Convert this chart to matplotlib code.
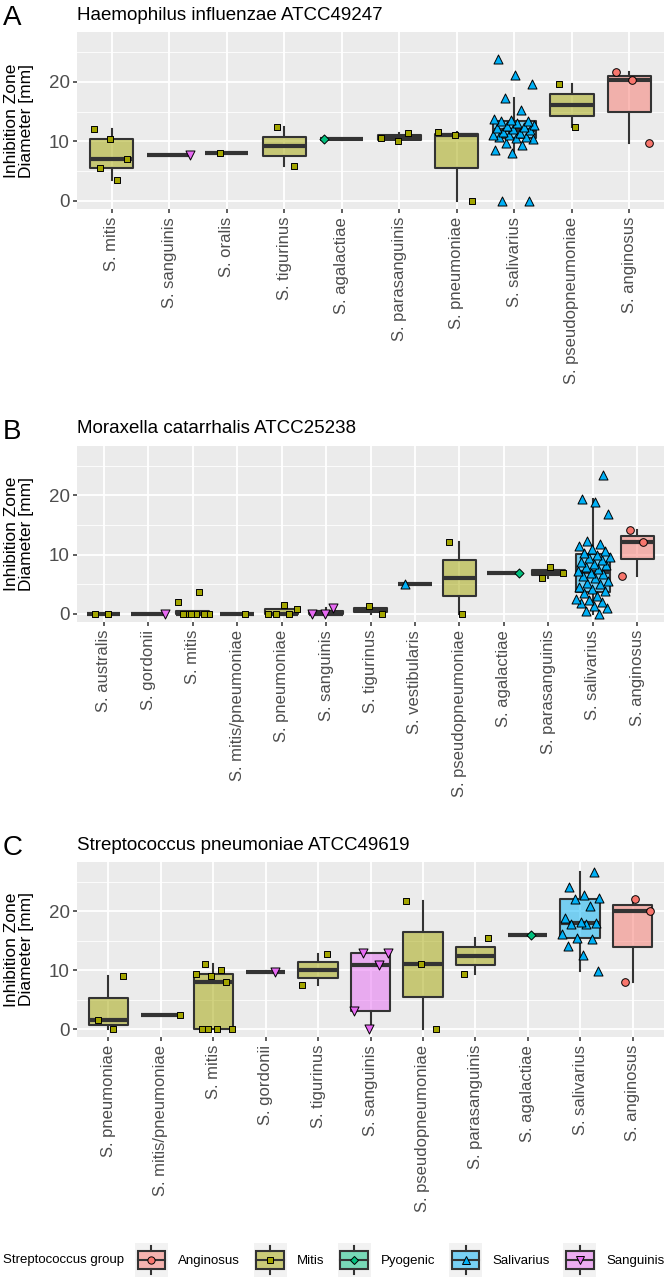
import matplotlib
matplotlib.use("Agg")
import matplotlib.pyplot as plt
import numpy as np
from matplotlib.patches import Rectangle
from matplotlib.lines import Line2D
from matplotlib.legend_handler import HandlerBase
from matplotlib.colors import to_rgba

plt.rcParams['font.family'] = ['Liberation Sans', 'DejaVu Sans']

# ---------------- data ----------------
group_names = ["Anginosus", "Mitis", "Pyogenic", "Salivarius", "Sanguinis"]
group_colors = ["#F8766D", "#A3A500", "#00BF7D", "#00B0F6", "#E76BF3"]
group_markers = ["o", "s", "D", "^", "v"]

# Panel A: Haemophilus influenzae ATCC49247
a_title = "Haemophilus influenzae ATCC49247"
a_species = ["S. mitis", "S. sanguinis", "S. oralis", "S. tigurinus", "S. agalactiae",
             "S. parasanguinis", "S. pneumoniae", "S. salivarius", "S. pseudopneumoniae",
             "S. anginosus"]
a_groups = ["Mitis", "Sanguinis", "Mitis", "Mitis", "Pyogenic",
            "Mitis", "Mitis", "Salivarius", "Mitis", "Anginosus"]
a_mitis = [3.5, 5.6, 7.1, 10.4, 12.1]
a_sanguinis = [7.7]
a_oralis = [8.0]
a_tigurinus = [5.9, 12.4]
a_agalactiae = [10.4]
a_parasanguinis = [10.0, 10.6, 11.4]
a_pneumoniae = [0.0, 11.0, 11.6]
a_salivarius = [0.0, 0.0, 8.0, 8.6, 9.4, 9.7, 10.4, 10.6, 10.7, 10.8, 11.0, 11.1, 11.4,
                11.6, 11.9, 12.0, 12.2, 12.4, 12.6, 12.8, 13.1, 13.4, 13.4, 13.6, 13.8,
                15.3, 17.3, 19.6, 21.2, 23.9]
a_pseudopneumoniae = [12.4, 19.7]
a_anginosus = [9.7, 20.3, 21.7]

# Panel B: Moraxella catarrhalis ATCC25238
b_title = "Moraxella catarrhalis ATCC25238"
b_species = ["S. australis", "S. gordonii", "S. mitis", "S. mitis/pneumoniae",
             "S. pneumoniae", "S. sanguinis", "S. tigurinus", "S. vestibularis",
             "S. pseudopneumoniae", "S. agalactiae", "S. parasanguinis", "S. salivarius",
             "S. anginosus"]
b_groups = ["Mitis", "Sanguinis", "Mitis", "Mitis", "Mitis", "Sanguinis", "Mitis",
            "Salivarius", "Mitis", "Pyogenic", "Mitis", "Salivarius", "Anginosus"]
b_australis = [0.0, 0.0]
b_gordonii = [0.0]
b_mitis = [0.0, 0.0, 0.0, 0.0, 0.0, 0.0, 2.0, 3.7]
b_mitis_pneumoniae = [0.0]
b_pneumoniae = [0.0, 0.0, 0.0, 0.8, 1.6]
b_sanguinis = [0.0, 0.0, 1.0]
b_tigurinus = [0.0, 1.4]
b_vestibularis = [5.0]
b_pseudopneumoniae = [0.0, 12.1]
b_agalactiae = [7.0]
b_parasanguinis = [6.0, 7.0, 8.0]
b_salivarius = [0.0, 0.5, 1.0, 1.4, 1.8, 2.0, 2.3, 2.6, 3.0, 3.5, 3.8, 4.2, 4.6, 5.0,
                5.3, 5.6, 6.0, 6.4, 6.7, 7.0, 7.3, 7.6, 7.9, 8.2, 8.5, 8.8, 9.1, 9.4,
                9.7, 10.0, 10.3, 10.6, 11.0, 11.4, 11.8, 12.3, 16.9, 18.9, 19.4, 23.4]
b_anginosus = [6.4, 12.2, 14.2]

# Panel C: Streptococcus pneumoniae ATCC49619
c_title = "Streptococcus pneumoniae ATCC49619"
c_species = ["S. pneumoniae", "S. mitis/pneumoniae", "S. mitis", "S. gordonii",
             "S. tigurinus", "S. sanguinis", "S. pseudopneumoniae", "S. parasanguinis",
             "S. agalactiae", "S. salivarius", "S. anginosus"]
c_groups = ["Mitis", "Mitis", "Mitis", "Sanguinis", "Mitis", "Sanguinis", "Mitis",
            "Mitis", "Pyogenic", "Salivarius", "Anginosus"]
c_pneumoniae = [0.0, 1.5, 9.0]
c_mitis_pneumoniae = [2.3]
c_mitis = [0.0, 0.0, 0.0, 0.0, 7.9, 9.0, 9.4, 10.0, 11.0]
c_gordonii = [9.6]
c_tigurinus = [7.4, 12.7]
c_sanguinis = [0.0, 3.0, 10.8, 12.9, 12.9]
c_pseudopneumoniae = [0.0, 11.0, 21.8]
c_parasanguinis = [9.3, 15.4]
c_agalactiae = [16.0]
c_salivarius = [9.8, 12.5, 14.1, 15.3, 15.5, 16.2, 17.9, 17.9, 18.0, 18.2, 18.8, 20.9,
                22.0, 22.3, 22.7, 24.1, 26.7]
c_anginosus = [8.0, 20.0, 22.1]

a_values = [a_mitis, a_sanguinis, a_oralis, a_tigurinus, a_agalactiae, a_parasanguinis,
            a_pneumoniae, a_salivarius, a_pseudopneumoniae, a_anginosus]
b_values = [b_australis, b_gordonii, b_mitis, b_mitis_pneumoniae, b_pneumoniae,
            b_sanguinis, b_tigurinus, b_vestibularis, b_pseudopneumoniae, b_agalactiae,
            b_parasanguinis, b_salivarius, b_anginosus]
c_values = [c_pneumoniae, c_mitis_pneumoniae, c_mitis, c_gordonii, c_tigurinus,
            c_sanguinis, c_pseudopneumoniae, c_parasanguinis, c_agalactiae,
            c_salivarius, c_anginosus]

y_label = "Inhibition Zone\nDiameter [mm]"
legend_title = "Streptococcus group"

# ---------------- style ----------------
W, H = 666, 1281
fig = plt.figure(figsize=(W / 100, H / 100), dpi=100)

PANEL_BG = "#EBEBEB"
DARK = "#333333"
TICKCOL = "#4D4D4D"
FILL_ALPHA = 0.5
BOX_LW = 1.5
MED_LW = 3.0
JITTER = 0.38
MSIZE = {"o": 5.5, "s": 5.0, "D": 4.6, "^": 6.5, "v": 6.5}
color_of = dict(zip(group_names, group_colors))
marker_of = dict(zip(group_names, group_markers))

left_px, right_px = 77, 664
panels_px = [(32, 209), (446, 622), (862, 1037)]  # top, bottom in pixels
ylim = (-1.35, 28.35)


def px_rect(top, bottom):
    return [left_px / W, 1 - bottom / H, (right_px - left_px) / W, (bottom - top) / H]


def draw_panel(ax, species, groups, values, title, letter, top_px, bottom_px):
    n = len(species)
    ax.set_facecolor(PANEL_BG)
    for s in ax.spines.values():
        s.set_visible(False)

    bp = ax.boxplot(values, positions=range(n), widths=0.75, whis=1.5,
                    showfliers=False, showcaps=False, patch_artist=True,
                    manage_ticks=False,
                    medianprops=dict(color=DARK, lw=MED_LW, solid_capstyle="butt"),
                    whiskerprops=dict(color=DARK, lw=BOX_LW),
                    boxprops=dict(edgecolor=DARK, lw=BOX_LW))
    for patch, g in zip(bp["boxes"], groups):
        patch.set_facecolor(to_rgba(color_of[g], FILL_ALPHA))
        patch.set_zorder(2)
        patch.set_joinstyle("round")
    for m in bp["medians"]:
        m.set_zorder(3)

    golden = 0.6180339887
    for i, (vals, g) in enumerate(zip(values, groups)):
        k = np.arange(len(vals))
        frac = ((k + 1) * golden + i * 0.37) % 1.0
        xs = i + JITTER * (2 * frac - 1)
        mk = marker_of[g]
        ax.scatter(xs, vals, marker=mk, s=MSIZE[mk] ** 2, facecolor=color_of[g],
                   edgecolor="black", linewidth=0.7, zorder=4)

    ax.set_xlim(-0.6, n - 0.4)
    ax.set_ylim(*ylim)
    ax.set_yticks([0, 10, 20])
    ax.set_yticks([5, 15, 25], minor=True)
    ax.set_xticks(range(n))
    ax.set_xticklabels(species, rotation=90, ha="center", va="top", fontsize=12,
                       color=TICKCOL)
    ax.tick_params(axis="y", labelsize=13.5, labelcolor=TICKCOL, color=DARK,
                   length=3.2, width=1.1, pad=2)
    ax.tick_params(axis="y", which="minor", length=0)
    ax.tick_params(axis="x", color=DARK, length=3.2, width=1.1, pad=2.5)
    ax.grid(True, which="major", color="white", lw=1.3, zorder=0)
    ax.grid(True, which="minor", axis="y", color="white", lw=0.6, zorder=0)
    ax.set_axisbelow(True)

    ax.annotate(title, xy=(0, 1), xycoords="axes fraction", xytext=(0, 9),
                textcoords="offset points", ha="left", va="baseline", fontsize=13.5)
    fig.text(3 / W, 1 - (top_px - 7) / H, letter, fontsize=20, ha="left",
             va="baseline")
    fig.text(19 / W, 1 - ((top_px + bottom_px) / 2) / H, y_label,
             rotation=90, ha="center", va="center", fontsize=12.5,
             multialignment="center", linespacing=0.95)


datasets = [(a_species, a_groups, a_values, a_title, "A"),
            (b_species, b_groups, b_values, b_title, "B"),
            (c_species, c_groups, c_values, c_title, "C")]
for (top, bottom), (sp, gr, vals, ti, let) in zip(panels_px, datasets):
    ax = fig.add_axes(px_rect(top, bottom))
    draw_panel(ax, sp, gr, vals, ti, let, top, bottom)


# ---------------- legend ----------------
class KeyGlyph:
    def __init__(self, color, marker):
        self.color = color
        self.marker = marker


class KeyHandler(HandlerBase):
    def create_artists(self, legend, h, xdescent, ydescent, width, height, fontsize,
                       trans):
        x0, y0 = -xdescent, -ydescent
        cx, cy = x0 + width / 2, y0 + height / 2
        arts = [Rectangle((x0, y0), width, height, fc="#F2F2F2", ec="none",
                          transform=trans)]
        arts.append(Line2D([cx, cx], [y0 + 0.1 * height, y0 + 0.25 * height],
                           color=DARK, lw=BOX_LW, transform=trans))
        arts.append(Line2D([cx, cx], [y0 + 0.75 * height, y0 + 0.9 * height],
                           color=DARK, lw=BOX_LW, transform=trans))
        arts.append(Rectangle((x0 + 0.08 * width, y0 + 0.25 * height), 0.84 * width,
                              0.5 * height, fc=to_rgba(h.color, FILL_ALPHA), ec=DARK,
                              lw=BOX_LW, transform=trans))
        arts.append(Line2D([x0 + 0.08 * width, x0 + 0.92 * width], [cy, cy],
                           color=DARK, lw=BOX_LW, transform=trans))
        arts.append(Line2D([cx], [cy], marker=h.marker, ms=MSIZE[h.marker] * 0.95,
                           mfc=h.color, mec="black", mew=0.7, ls="none",
                           transform=trans))
        return arts


handles = [KeyGlyph(c, m) for c, m in zip(group_colors, group_markers)]
leg_y = 1 - 1260 / H
fig.text(3 / W, leg_y, legend_title, ha="left", va="center", fontsize=9.5)
fig.legend(handles, group_names, handler_map={KeyGlyph: KeyHandler()},
           loc="center left", bbox_to_anchor=(135 / W, leg_y), ncol=5,
           frameon=False, fontsize=9.5, handlelength=2.5, handleheight=3.6,
           handletextpad=0.75, columnspacing=1.05, borderpad=0, borderaxespad=0)

fig.savefig("out.png", dpi=100)
